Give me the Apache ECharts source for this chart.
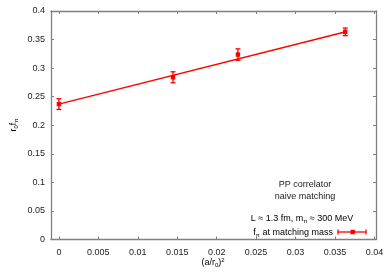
<!DOCTYPE html>
<html><head><meta charset="utf-8">
<script src="https://cdn.jsdelivr.net/npm/echarts@6/dist/echarts.min.js"></script>
<style>html,body{margin:0;padding:0;background:#fff}#c{width:392px;height:274px}</style>
</head><body><div id="c"></div>
<script>
var xVals = [0, 0.01447, 0.0227, 0.0363];
var yVals = [0.237, 0.284, 0.3237, 0.3635];
var yErrs = [0.0094, 0.0096, 0.0100, 0.0067];
var fitX = [0, 0.0365];
var fitY = [0.237, 0.364];
var xTicks = [0, 0.005, 0.01, 0.015, 0.02, 0.025, 0.03, 0.035, 0.04];
var xTickLabels = ['0', '0.005', '0.01', '0.015', '0.02', '0.025', '0.03', '0.035', '0.04'];
var yTicks = [0, 0.05, 0.1, 0.15, 0.2, 0.25, 0.3, 0.35, 0.4];
var yTickLabels = ['0', '0.05', '0.1', '0.15', '0.2', '0.25', '0.3', '0.35', '0.4'];

var FONT = 'Liberation Sans';
var RED = '#ff0000';
var AX = '#808080';
var TXT = '#222';

var chart = echarts.init(document.getElementById('c'), null, {renderer: 'canvas'});

var errData = xVals.map(function (x, i) { return [x, yVals[i], yErrs[i]]; });
var fitData = fitX.map(function (x, i) { return [x, fitY[i]]; });

function xLabelFmt(v) {
  var i = xTicks.findIndex(function (t) { return Math.abs(t - v) < 1e-9; });
  return i >= 0 ? xTickLabels[i] : '';
}
function yLabelFmt(v) {
  var i = yTicks.findIndex(function (t) { return Math.abs(t - v) < 1e-9; });
  return i >= 0 ? yTickLabels[i] : '';
}

var rich = {
  a: {fontFamily: FONT, fontSize: 9, color: TXT, verticalAlign: 'middle', lineHeight: 11},
  sub: {fontFamily: FONT, fontSize: 6, color: TXT, verticalAlign: 'bottom', lineHeight: 11},
  sup: {fontFamily: FONT, fontSize: 6, color: TXT, verticalAlign: 'top', lineHeight: 11}
};

var option = {
  animation: false,
  backgroundColor: '#fff',
  grid: {left: 51, top: 11, width: 325, height: 228.5, containLabel: false},
  xAxis: [{
    type: 'value', min: -0.001, max: 0.0402, position: 'bottom',
    axisLine: {show: true, onZero: false, lineStyle: {color: AX, width: 1.3}},
    axisTick: {show: true, inside: true, length: 3, lineStyle: {color: AX}, customValues: xTicks},
    axisLabel: {show: true, fontFamily: FONT, fontSize: 9, color: TXT, margin: 9, customValues: xTicks, formatter: xLabelFmt},
    splitLine: {show: false}
  }, {
    type: 'value', min: -0.001, max: 0.0402, position: 'top',
    axisLine: {show: true, onZero: false, lineStyle: {color: AX, width: 1.3}},
    axisTick: {show: true, inside: true, length: 3, lineStyle: {color: AX}, customValues: xTicks},
    axisLabel: {show: false},
    splitLine: {show: false}
  }],
  yAxis: [{
    type: 'value', min: 0, max: 0.4, interval: 0.05, position: 'left',
    axisLine: {show: true, onZero: false, lineStyle: {color: AX, width: 1.3}},
    axisTick: {show: true, inside: true, length: 3, lineStyle: {color: AX}},
    axisLabel: {show: true, fontFamily: FONT, fontSize: 9, color: TXT, margin: 6, formatter: yLabelFmt},
    splitLine: {show: false}
  }, {
    type: 'value', min: 0, max: 0.4, interval: 0.05, position: 'right',
    axisLine: {show: true, onZero: false, lineStyle: {color: AX, width: 1.3}},
    axisTick: {show: true, inside: true, length: 3, lineStyle: {color: AX}},
    axisLabel: {show: false},
    splitLine: {show: false}
  }],
  series: [{
    type: 'line', xAxisIndex: 0, yAxisIndex: 0,
    data: fitData, showSymbol: false, symbol: 'none',
    lineStyle: {color: RED, width: 1.5}, z: 2
  }, {
    type: 'custom', xAxisIndex: 0, yAxisIndex: 0,
    data: errData, z: 3,
    renderItem: function (params, api) {
      var x = api.value(0), y = api.value(1), e = api.value(2);
      var p = api.coord([x, y]);
      var hi = api.coord([x, y + e]);
      var lo = api.coord([x, y - e]);
      var cw = 2.5, s = 2.2;
      var st = {stroke: RED, lineWidth: 1.3, fill: null};
      return {
        type: 'group',
        children: [
          {type: 'line', shape: {x1: p[0], y1: hi[1], x2: p[0], y2: lo[1]}, style: st},
          {type: 'line', shape: {x1: p[0] - cw, y1: hi[1], x2: p[0] + cw, y2: hi[1]}, style: st},
          {type: 'line', shape: {x1: p[0] - cw, y1: lo[1], x2: p[0] + cw, y2: lo[1]}, style: st},
          {type: 'rect', shape: {x: p[0] - s, y: p[1] - s, width: 2 * s, height: 2 * s}, style: {fill: RED}}
        ]
      };
    }
  }],
  graphic: [
    {type: 'text', x: 14, y: 125, rotation: Math.PI / 2, style: {
      text: '{a|r}{sub|0}{a|f}{sub|π}', rich: rich, align: 'center', verticalAlign: 'middle'}},
    {type: 'text', x: 213, y: 263, style: {
      text: '{a|(a/r}{sub|0}{a|)}{sup|2}', rich: rich, align: 'center', verticalAlign: 'middle'}},
    {type: 'text', x: 305, y: 185, style: {text: 'PP correlator', fontFamily: FONT, fontSize: 9, fill: TXT, align: 'center', verticalAlign: 'middle'}},
    {type: 'text', x: 305, y: 197, style: {text: 'naive matching', fontFamily: FONT, fontSize: 9, fill: TXT, align: 'center', verticalAlign: 'middle'}},
    {type: 'text', x: 302, y: 219, style: {
      text: '{a|L ≈ 1.3 fm, m}{sub|π}{a| ≈ 300 MeV}', rich: rich, align: 'center', verticalAlign: 'middle'}},
    {type: 'text', x: 333, y: 233, style: {
      text: '{a|f}{sub|π}{a| at matching mass}', rich: rich, align: 'right', verticalAlign: 'middle'}},
    {type: 'line', shape: {x1: 338, y1: 232, x2: 366, y2: 232}, style: {stroke: RED, lineWidth: 1.3}},
    {type: 'line', shape: {x1: 338, y1: 229.5, x2: 338, y2: 234.5}, style: {stroke: RED, lineWidth: 1.3}},
    {type: 'line', shape: {x1: 366, y1: 229.5, x2: 366, y2: 234.5}, style: {stroke: RED, lineWidth: 1.3}},
    {type: 'rect', shape: {x: 350.5, y: 229.8, width: 4.4, height: 4.4}, style: {fill: RED}}
  ]
};
chart.setOption(option);
</script>
</body></html>
